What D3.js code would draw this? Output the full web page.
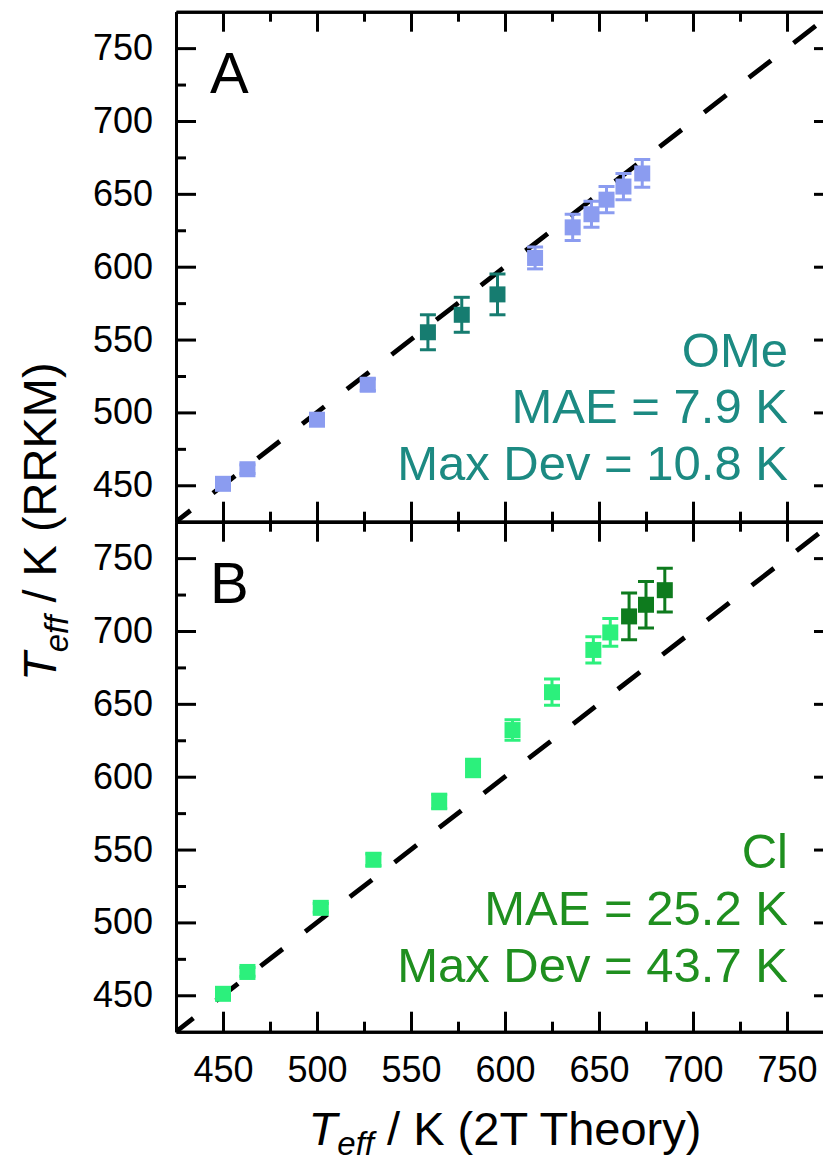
<!DOCTYPE html>
<html>
<head>
<meta charset="utf-8">
<script src="https://cdn.jsdelivr.net/npm/d3@7"></script>
<style>
html, body { margin: 0; padding: 0; background: #fff; }
svg { display: block; }
text { font-family: "Liberation Sans", Arial, Helvetica, sans-serif; }
</style>
</head>
<body>
<div id="chart"></div>
<script>
// ---------- data ----------
const majorTicks = [450, 500, 550, 600, 650, 700, 750];
const minorTicks = [475, 525, 575, 625, 675, 725];
const axisDomain = [425, 775];

// Panel A (OMe)
const omeLightX   = [450, 463, 500, 527, 616, 636, 646, 654, 663, 673];
const omeLightY   = [451, 461, 495, 519, 606, 627, 636, 646, 655, 664];
const omeLightErr = [3, 3, 4, 4, 7.5, 9, 9, 9, 9, 9.5];
const omeDarkX    = [559, 577, 596];
const omeDarkY    = [555, 567, 581];
const omeDarkErr  = [12, 12, 14];

// Panel B (Cl)
const clLightX   = [450, 463, 502, 530, 565, 583, 604, 625, 647, 656];
const clLightY   = [451, 466, 510, 543, 583, 606, 632, 658, 687, 699];
const clLightErr = [3, 3, 3, 4, 5, 6, 7, 9, 9, 9.5];
const clDarkX    = [666, 675, 685];
const clDarkY    = [710, 718, 728];
const clDarkErr  = [16, 16, 15];

const panelLabels = ["A", "B"];
const omeText = ["OMe", "MAE = 7.9 K", "Max Dev = 10.8 K"];
const clText  = ["Cl", "MAE = 25.2 K", "Max Dev = 43.7 K"];

// ---------- layout ----------
const W = 823, H = 1161;
const left = 176, right = 834;
const topA = 11.7, mid = 521.7, botB = 1031.7;

const svg = d3.select("#chart").append("svg")
  .attr("width", W).attr("height", H);

const x = d3.scaleLinear().domain(axisDomain).range([left, right]);
const yA = d3.scaleLinear().domain(axisDomain).range([mid, topA]);
const yB = d3.scaleLinear().domain(axisDomain).range([botB, mid]);

const colors = {
  omeLight: "#8b9cf0",
  omeDark: "#167c70",
  omeText: "#1c8a82",
  clLight: "#2cf07c",
  clDark: "#0e7b1e",
  clText: "#1f8f1f"
};

const defs = svg.append("defs");
defs.append("clipPath").attr("id", "clipA").append("rect")
  .attr("x", left).attr("y", topA).attr("width", right - left).attr("height", mid - topA);
defs.append("clipPath").attr("id", "clipB").append("rect")
  .attr("x", left).attr("y", mid).attr("width", right - left).attr("height", botB - mid);

function styleAxis(g) {
  g.selectAll("path.domain").attr("stroke", "#000").attr("stroke-width", 3);
  g.selectAll(".tick line").attr("stroke", "#000").attr("stroke-width", 3);
  g.selectAll(".tick text").attr("fill", "#000").attr("font-size", 36)
    .attr("font-family", "'Liberation Sans', Arial, sans-serif");
}

function drawPanel(y, clipId, series, dashOffset, label, labelY, texts, textColor, textBaselines, showBottomLabels) {
  const g = svg.append("g");
  const plot = g.append("g").attr("clip-path", `url(#${clipId})`);

  // dashed y = x line
  plot.append("line")
    .attr("x1", x(axisDomain[0])).attr("y1", y(axisDomain[0]))
    .attr("x2", x(axisDomain[1])).attr("y2", y(axisDomain[1]))
    .attr("stroke", "#000").attr("stroke-width", 4.8)
    .attr("stroke-dasharray", "28,28.5")
    .attr("stroke-dashoffset", dashOffset);

  // series
  series.forEach(s => {
    const pts = s.xs.map((xv, i) => ({ x: xv, y: s.ys[i], e: s.errs[i] }));
    const sg = plot.append("g");
    const capW = 16;
    sg.selectAll("line.err").data(pts).enter().append("line")
      .attr("x1", d => x(d.x)).attr("x2", d => x(d.x))
      .attr("y1", d => y(d.y - d.e)).attr("y2", d => y(d.y + d.e))
      .attr("stroke", s.color).attr("stroke-width", 3);
    sg.selectAll("line.capTop").data(pts).enter().append("line")
      .attr("x1", d => x(d.x) - capW / 2).attr("x2", d => x(d.x) + capW / 2)
      .attr("y1", d => y(d.y + d.e)).attr("y2", d => y(d.y + d.e))
      .attr("stroke", s.color).attr("stroke-width", 3);
    sg.selectAll("line.capBot").data(pts).enter().append("line")
      .attr("x1", d => x(d.x) - capW / 2).attr("x2", d => x(d.x) + capW / 2)
      .attr("y1", d => y(d.y - d.e)).attr("y2", d => y(d.y - d.e))
      .attr("stroke", s.color).attr("stroke-width", 3);
    const sz = 16;
    sg.selectAll("rect").data(pts).enter().append("rect")
      .attr("x", d => x(d.x) - sz / 2).attr("y", d => y(d.y) - sz / 2)
      .attr("width", sz).attr("height", sz)
      .attr("fill", s.color);
  });

  // axes
  const y0 = y.range()[0], y1 = y.range()[1];
  const la = g.append("g").attr("transform", `translate(${left},0)`)
    .call(d3.axisLeft(y).tickValues(majorTicks).tickSize(-20).tickSizeOuter(0).tickPadding(23).tickFormat(d3.format("d")));
  styleAxis(la);
  const lm = g.append("g").attr("transform", `translate(${left},0)`)
    .call(d3.axisLeft(y).tickValues(minorTicks).tickSize(-10).tickSizeOuter(0).tickFormat(""));
  styleAxis(lm);
  const ra = g.append("g").attr("transform", `translate(${right},0)`)
    .call(d3.axisRight(y).tickValues(majorTicks).tickSize(-20).tickSizeOuter(0).tickFormat(""));
  styleAxis(ra);
  const rm = g.append("g").attr("transform", `translate(${right},0)`)
    .call(d3.axisRight(y).tickValues(minorTicks).tickSize(-10).tickSizeOuter(0).tickFormat(""));
  styleAxis(rm);
  const ta = g.append("g").attr("transform", `translate(0,${y1})`)
    .call(d3.axisTop(x).tickValues(majorTicks).tickSize(-20).tickSizeOuter(0).tickFormat(""));
  styleAxis(ta);
  const tm = g.append("g").attr("transform", `translate(0,${y1})`)
    .call(d3.axisTop(x).tickValues(minorTicks).tickSize(-10).tickSizeOuter(0).tickFormat(""));
  styleAxis(tm);
  const ba = g.append("g").attr("transform", `translate(0,${y0})`)
    .call(d3.axisBottom(x).tickValues(majorTicks).tickSize(-20).tickSizeOuter(0).tickPadding(25)
      .tickFormat(showBottomLabels ? d3.format("d") : ""));
  styleAxis(ba);
  const bm = g.append("g").attr("transform", `translate(0,${y0})`)
    .call(d3.axisBottom(x).tickValues(minorTicks).tickSize(-10).tickSizeOuter(0).tickFormat(""));
  styleAxis(bm);

  // panel label
  g.append("text").attr("x", 210).attr("y", labelY)
    .attr("font-size", 58).attr("fill", "#000").text(label);

  // annotation
  texts.forEach((t, i) => {
    g.append("text").attr("x", 788).attr("y", textBaselines[i])
      .attr("text-anchor", "end").attr("font-size", 49)
      .attr("fill", textColor).text(t);
  });
}

drawPanel(yA, "clipA", [
  { xs: omeLightX, ys: omeLightY, errs: omeLightErr, color: colors.omeLight },
  { xs: omeDarkX, ys: omeDarkY, errs: omeDarkErr, color: colors.omeDark }
], 9.7, panelLabels[0], 93, omeText, colors.omeText, [367, 423, 480], false);

drawPanel(yB, "clipB", [
  { xs: clLightX, ys: clLightY, errs: clLightErr, color: colors.clLight },
  { xs: clDarkX, ys: clDarkY, errs: clDarkErr, color: colors.clDark }
], 6, panelLabels[1], 603, clText, colors.clText, [868, 925, 982], true);

// axis titles
const xt = svg.append("text")
  .attr("x", (left + right) / 2).attr("y", 1145)
  .attr("text-anchor", "middle").attr("font-size", 47).attr("fill", "#000");
xt.append("tspan").attr("font-style", "italic").text("T");
xt.append("tspan").attr("font-style", "italic").attr("font-size", 33).attr("dy", 10).text("eff");
xt.append("tspan").attr("dy", -10).text(" / K (2T Theory)");

const yt = svg.append("text")
  .attr("transform", `translate(56,${(topA + botB) / 2}) rotate(-90)`)
  .attr("text-anchor", "middle").attr("font-size", 47).attr("fill", "#000");
yt.append("tspan").attr("font-style", "italic").text("T");
yt.append("tspan").attr("font-style", "italic").attr("font-size", 33).attr("dy", 12).text("eff");
yt.append("tspan").attr("dy", -12).text(" / K (RRKM)");
</script>
</body>
</html>
